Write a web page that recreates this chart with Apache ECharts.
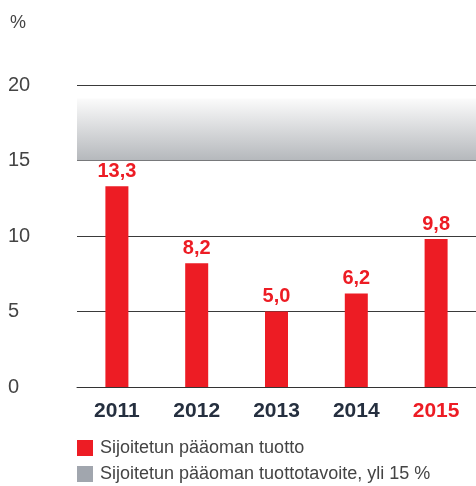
<!DOCTYPE html>
<html>
<head>
<meta charset="utf-8">
<script src="https://cdn.jsdelivr.net/npm/echarts@6/dist/echarts.min.js"></script>
<style>
  html, body { margin: 0; padding: 0; background: #fff; }
  #chart { width: 476px; height: 486px; }
</style>
</head>
<body>
<div id="chart"></div>
<script>
// vuodet ja tuotot (%)
const years = ['2011', '2012', '2013', '2014', '2015']
const returns = [13.3, 8.2, 5.0, 6.2, 9.8]
const targetBand = [15, 19.1]
const seriesNames = ['Sijoitetun pääoman tuotto', 'Sijoitetun pääoman tuottotavoite, yli 15 %']

const red = '#ed1c24'
const font = '"Liberation Sans", Arial, sans-serif'

const chart = echarts.init(document.getElementById('chart'))

const option = {
  animation: false,
  textStyle: { fontFamily: font },
  title: {
    text: '%',
    left: 5,
    top: 9,
    textStyle: { fontSize: 18, fontWeight: 'normal', color: '#444', fontFamily: font }
  },
  grid: { left: 77, top: 85, width: 406, height: 302 },
  legend: {
    orient: 'vertical',
    left: 77,
    top: 439,
    padding: 0,
    itemWidth: 16,
    itemHeight: 16,
    itemGap: 8,
    icon: 'rect',
    textStyle: { fontSize: 18, color: '#444', fontFamily: font, padding: [0, 0, 0, 2] },
    data: seriesNames
  },
  xAxis: {
    type: 'category',
    data: years.map((y, i) => ({
      value: y,
      textStyle: { color: i === years.length - 1 ? red : '#252f3f' }
    })),
    axisLine: { lineStyle: { color: '#333', width: 1 } },
    axisTick: { show: false },
    axisLabel: { fontSize: 21, fontWeight: 'bold', margin: 14, fontFamily: font }
  },
  yAxis: {
    type: 'value',
    min: 0,
    max: 20,
    interval: 5,
    axisLine: { show: false },
    axisTick: { show: false },
    axisLabel: { align: 'left', margin: 69, fontSize: 20, color: '#444', fontFamily: font },
    splitLine: { lineStyle: { color: '#3a3a3a', width: 1 } }
  },
  series: [
    {
      name: seriesNames[0],
      type: 'bar',
      data: returns,
      barWidth: 23,
      itemStyle: { color: red },
      label: {
        show: true,
        position: 'top',
        distance: 5,
        color: red,
        fontSize: 20,
        fontWeight: 'bold',
        fontFamily: font,
        formatter: p => p.value.toFixed(1).replace('.', ',')
      },
      markArea: {
        silent: true,
        itemStyle: {
          color: new echarts.graphic.LinearGradient(0, 0, 0, 1, [
            { offset: 0, color: '#fbfbfb' },
            { offset: 1, color: '#b5b8bc' }
          ])
        },
        data: [[{ yAxis: targetBand[1] }, { yAxis: targetBand[0] }]]
      }
    },
    {
      name: seriesNames[1],
      type: 'line',
      data: [],
      itemStyle: { color: '#a1a6ae' }
    }
  ]
}

chart.setOption(option)
</script>
</body>
</html>
